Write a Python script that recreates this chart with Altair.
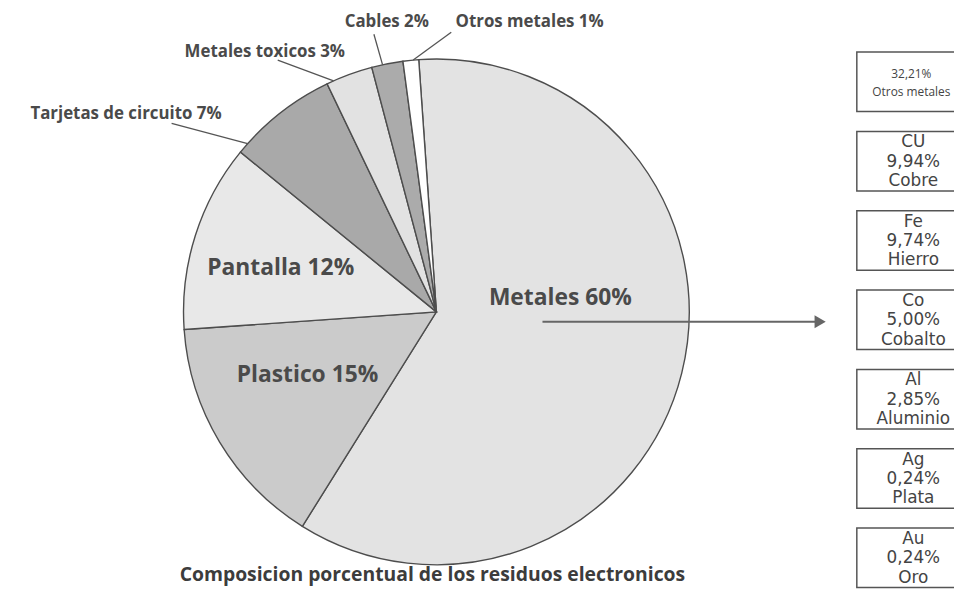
import math
import altair as alt
import pandas as pd

# ---------------- data ----------------
categories = ["Metales", "Plastico", "Pantalla", "Tarjetas de circuito",
              "Metales toxicos", "Cables", "Otros metales"]
shares = [60, 15, 12, 7, 3, 2, 1]
slice_colors = ["#e3e3e3", "#cbcbcb", "#e8e8e8", "#a9a9a9", "#e2e2e2", "#ababab", "#ffffff"]

metal_symbols = ["", "CU", "Fe", "Co", "Al", "Ag", "Au"]
metal_pcts = ["32,21%", "9,94%", "9,74%", "5,00%", "2,85%", "0,24%", "0,24%"]
metal_names = ["Otros metales", "Cobre", "Hierro", "Cobalto", "Aluminio", "Plata", "Oro"]

title_text = "Composicion porcentual de los residuos electronicos"

# ---------------- layout (chart px) ----------------
W, H = 954, 583
CX, CY, R = 432, 304, 255
START_DEG = -4.0
START = math.radians(START_DEG)
FONT = "Open Sans"
INK = "#4a4a4a"

inner_pos = {"Metales": (557, 290), "Plastico": (302, 368), "Pantalla": (275, 260)}
outer_pos = {"Tarjetas de circuito": (119, 104), "Metales toxicos": (259, 42),
             "Cables": (382, 12), "Otros metales": (526, 12)}
leader_end = {"Tarjetas de circuito": (165, 114), "Metales toxicos": (272, 50),
              "Cables": (369, 24), "Otros metales": (447, 22)}
leader_frac = {"Tarjetas de circuito": 0.1, "Metales toxicos": 0.15,
               "Cables": 0.35, "Otros metales": 0.65}

# ---------------- pie ----------------
pie_df = pd.DataFrame({"cat": categories, "share": shares, "idx": list(range(len(shares)))})
pie = alt.Chart(pie_df).mark_arc(outerRadius=R, stroke="#4d4d4d", strokeWidth=1.4).encode(
    theta=alt.Theta("share:Q", stack=True,
                    scale=alt.Scale(range=[START, START + 2 * math.pi])),
    color=alt.Color("cat:N", scale=alt.Scale(domain=categories, range=slice_colors), legend=None),
    order=alt.Order("idx:Q"),
    x=alt.value(CX), y=alt.value(CY),
)

# labels
lab_rows = []
for c, s in zip(categories, shares):
    if c in inner_pos:
        lab_rows.append({"t": f"{c} {s}%", "x": inner_pos[c][0], "y": inner_pos[c][1], "kind": "in"})
    else:
        lab_rows.append({"t": f"{c} {s}%", "x": outer_pos[c][0], "y": outer_pos[c][1], "kind": "out"})
lab_df = pd.DataFrame(lab_rows)

inner_text = alt.Chart(lab_df).transform_filter(alt.datum.kind == "in").mark_text(
    font=FONT, fontWeight="bold", fontSize=23, color=INK, align="center", baseline="middle"
).encode(x=alt.X("x:Q", scale=None), y=alt.Y("y:Q", scale=None), text="t:N")

outer_text = alt.Chart(lab_df).transform_filter(alt.datum.kind == "out").mark_text(
    font=FONT, fontWeight="bold", fontSize=17, color=INK, align="center", baseline="middle"
).encode(x=alt.X("x:Q", scale=None), y=alt.Y("y:Q", scale=None), text="t:N")

# leader lines from slice edge
lead_rows = []
cum = 0.0
for c, s in zip(categories, shares):
    if c in leader_frac:
        a = math.radians(START_DEG + (cum + leader_frac[c] * s) * 3.6)
        sx, sy = CX + R * math.sin(a), CY - R * math.cos(a)
        ex, ey = leader_end[c]
        lead_rows.append({"x": sx, "y": sy, "x2": ex, "y2": ey})
    cum += s
lead_df = pd.DataFrame(lead_rows)
leaders = alt.Chart(lead_df).mark_rule(color="#555555", strokeWidth=1.3).encode(
    x=alt.X("x:Q", scale=None), y=alt.Y("y:Q", scale=None),
    x2="x2:Q", y2="y2:Q")

# arrow
one = pd.DataFrame({"a": [0]})
arrow_line = alt.Chart(one).mark_rule(color="#666666", strokeWidth=2).encode(
    x=alt.value(539), x2=alt.value(814), y=alt.value(314))
arrow_head = alt.Chart(one).mark_point(shape="triangle-right", filled=True, size=170,
                                       color="#666666", opacity=1).encode(
    x=alt.value(819), y=alt.value(314))

# title
title = alt.Chart(one).mark_text(font=FONT, fontWeight="bold", fontSize=19.5, color="#3c3c3c",
                                 align="center", baseline="middle").encode(
    x=alt.value(428), y=alt.value(569), text=alt.value(title_text))

# ---------------- metal boxes ----------------
box_labels = []
for sym, p, n in zip(metal_symbols, metal_pcts, metal_names):
    box_labels.append("\n".join([v for v in (sym, p, n) if v]))
box_idx = list(range(len(metal_names)))
box_df = pd.DataFrame({"idx": box_idx, "label": box_labels})

box_scale = alt.Scale(type="band", domain=box_idx, range=[42, 582],
                      paddingInner=0.25, paddingOuter=0)
yb = alt.Y("idx:O", axis=None, scale=box_scale)
ybc = alt.Y("idx:O", axis=None, bandPosition=0.5, scale=box_scale)

boxes = alt.Chart(box_df).mark_rect(fill="white", stroke="#555555", strokeWidth=1.5).encode(
    x=alt.value(856), x2=alt.value(958), y=yb)

box_text_first = alt.Chart(box_df).transform_filter(alt.datum.idx == 0).mark_text(
    font=FONT, fontSize=12, color="#444444", lineBreak="\n", lineHeight=18, dy=-8,
    align="center", baseline="middle").encode(x=alt.value(911), y=ybc, text="label:N")

box_text = alt.Chart(box_df).transform_filter(alt.datum.idx > 0).mark_text(
    font="DejaVu Sans", fontSize=17, color="#444444", lineBreak="\n", lineHeight=19.5, dy=-19,
    align="center", baseline="middle").encode(x=alt.value(913), y=ybc, text="label:N")

chart = alt.layer(
    pie, leaders, inner_text, outer_text, arrow_line, arrow_head, title,
    boxes, box_text_first, box_text
).resolve_scale(x="independent", y="independent").properties(
    width=W, height=H, autosize=alt.AutoSizeParams(type="none"), padding=0,
    background="white"
).configure_view(stroke=None)

chart.save("out.html", embed_options={"renderer": "svg", "actions": False})
